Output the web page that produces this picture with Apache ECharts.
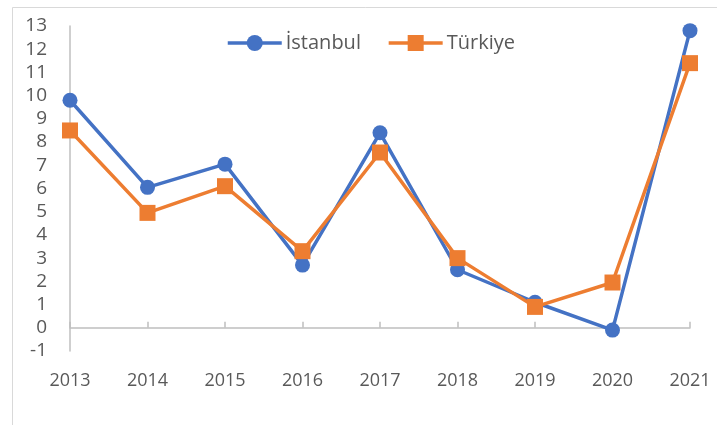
<!DOCTYPE html>
<html>
<head>
<meta charset="utf-8">
<script src="https://cdn.jsdelivr.net/npm/echarts@6/dist/echarts.min.js"></script>
<style>
html,body{margin:0;padding:0;background:#fff;}
#chart{width:717px;height:425px;}
</style>
</head>
<body>
<div id="chart"></div>
<script>
const years = ['2013','2014','2015','2016','2017','2018','2019','2020','2021'];
const istanbul = [9.8, 6.05, 7.05, 2.7, 8.4, 2.5, 1.1, -0.1, 12.8];
const turkiye = [8.5, 4.95, 6.1, 3.3, 7.55, 3.0, 0.9, 1.95, 11.4];
const yMin = -1, yMax = 13, yStep = 1;

const FONT = '"Open Sans", "Noto Sans", sans-serif';
const chart = echarts.init(document.getElementById('chart'), null, {renderer: 'canvas'});
chart.setOption({
  backgroundColor: '#ffffff',
  animation: false,
  graphic: [{
    type: 'rect', left: 10, top: 5, silent: true,
    shape: {x: 0, y: 0, width: 720, height: 430},
    style: {fill: 'none', stroke: '#d9d9d9', lineWidth: 1}
  }],
  legend: {
    left: 221, top: 28,
    itemWidth: 54, itemHeight: 20, itemGap: 26,
    lineStyle: {width: 3.5},
    textStyle: {fontFamily: FONT, fontSize: 20, color: '#595959', padding: [0, 0, 0, -1]},
    data: ['İstanbul', 'Türkiye']
  },
  grid: {left: 70, right: 27, top: 26, bottom: 74, containLabel: false},
  xAxis: [{
    type: 'category', data: years, boundaryGap: false, position: 'bottom',
    axisLine: {show: false, onZero: false},
    axisTick: {show: false},
    axisLabel: {fontFamily: FONT, fontSize: 18, color: '#595959', margin: 21}
  }, {
    type: 'category', data: years, boundaryGap: false, position: 'bottom',
    axisLine: {show: true, onZero: true, lineStyle: {color: '#bfbfbf', width: 1.5}},
    axisTick: {show: true, inside: true, length: 6, lineStyle: {color: '#bfbfbf', width: 1.5}},
    axisLabel: {show: false}
  }],
  yAxis: {
    type: 'value', min: yMin, max: yMax, interval: yStep,
    axisLine: {show: true, onZero: false, lineStyle: {color: '#bfbfbf', width: 1.5}},
    axisTick: {show: false},
    splitLine: {show: false},
    axisLabel: {fontFamily: FONT, fontSize: 19, color: '#595959', margin: 23}
  },
  series: [{
    name: 'İstanbul', type: 'line', data: istanbul, xAxisIndex: 0,
    symbol: 'circle', symbolSize: 15,
    lineStyle: {color: '#4472C4', width: 3.5},
    itemStyle: {color: '#4472C4'}
  }, {
    name: 'Türkiye', type: 'line', data: turkiye, xAxisIndex: 0,
    symbol: 'rect', symbolSize: 16,
    lineStyle: {color: '#ED7D31', width: 3.5},
    itemStyle: {color: '#ED7D31'}
  }]
});
</script>
</body>
</html>
